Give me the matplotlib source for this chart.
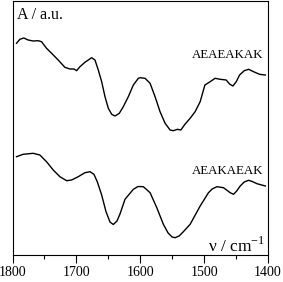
import matplotlib
matplotlib.use("Agg")
import matplotlib.pyplot as plt

plt.rcParams['font.family'] = ['Liberation Serif', 'DejaVu Serif']
plt.rcParams['mathtext.fontset'] = 'custom'
plt.rcParams['mathtext.rm'] = 'Liberation Serif'

# wavenumbers (cm^-1) and absorbance (a.u., offset) for each peptide
wn_top = [1793.7, 1788.5, 1782.3, 1775.5, 1767.7, 1759.8, 1754.5, 1746.7, 1738.8, 1728.5,
          1718.0, 1710.1, 1703.8, 1699.6, 1694.4, 1686.6, 1676.1, 1670.9, 1665.7, 1660.4,
          1655.2, 1650.0, 1644.7, 1639.5, 1632.8, 1626.5, 1618.7, 1610.8, 1603.0, 1600.3,
          1592.5, 1584.6, 1576.8, 1569.0, 1561.1, 1553.3, 1548.1, 1541.8, 1536.5, 1529.7,
          1521.9, 1514.1, 1506.2, 1498.8, 1490.6, 1482.8, 1474.9, 1465.5, 1460.2, 1454.9,
          1449.7, 1444.5, 1437.2, 1430.4, 1422.6, 1413.2, 1404.2]
a_top = [2.127, 2.167, 2.180, 2.160, 2.150, 2.153, 2.143, 2.077, 2.027, 1.960,
         1.887, 1.870, 1.870, 1.853, 1.893, 1.937, 1.983, 1.960, 1.860, 1.743,
         1.593, 1.477, 1.417, 1.400, 1.427, 1.493, 1.593, 1.710, 1.777, 1.783,
         1.777, 1.727, 1.593, 1.443, 1.327, 1.260, 1.253, 1.267, 1.260, 1.320,
         1.377, 1.443, 1.543, 1.710, 1.743, 1.777, 1.767, 1.760, 1.720, 1.700,
         1.743, 1.810, 1.853, 1.867, 1.843, 1.817, 1.810]

wn_bot = [1793.7, 1783.4, 1767.7, 1757.2, 1746.7, 1736.3, 1725.8, 1715.3, 1707.5, 1697.1,
          1686.6, 1678.7, 1672.5, 1667.3, 1660.4, 1653.6, 1647.4, 1642.2, 1636.4, 1631.7,
          1623.9, 1610.8, 1603.5, 1595.1, 1584.6, 1574.1, 1563.8, 1556.4, 1550.1, 1545.4,
          1539.2, 1532.9, 1521.9, 1506.2, 1493.2, 1487.4, 1480.0, 1469.7, 1459.2, 1454.0,
          1449.0, 1443.5, 1437.2, 1430.4, 1424.6, 1417.3, 1404.2]
a_bot = [0.993, 1.017, 1.027, 1.010, 0.943, 0.860, 0.793, 0.753, 0.760, 0.793,
         0.833, 0.843, 0.817, 0.743, 0.610, 0.443, 0.340, 0.315, 0.350, 0.420,
         0.567, 0.667, 0.695, 0.693, 0.633, 0.483, 0.317, 0.230, 0.190, 0.183,
         0.200, 0.240, 0.317, 0.500, 0.633, 0.670, 0.693, 0.683, 0.633, 0.617,
         0.650, 0.700, 0.740, 0.757, 0.745, 0.723, 0.700]

labels = ["AEAEAKAK", "AEAKAEAK"]
xticks = [1800, 1700, 1600, 1500, 1400]
xminor = [1750, 1650, 1550, 1450]

fig = plt.figure(figsize=(2.83, 2.82), dpi=100)
ax = fig.add_axes([12.5/283, 27/282, 255.5/283, 254/282])

ax.plot(wn_top, a_top, color='black', lw=1.0, solid_joinstyle='round')
ax.plot(wn_bot, a_bot, color='black', lw=1.0, solid_joinstyle='round')

ax.set_xlim(1800, 1400)
ax.set_ylim(0.01, 2.55)
ax.set_xticks(xticks)
ax.set_xticks(xminor, minor=True)
ax.set_yticks([])
ax.tick_params(axis='x', which='major', direction='out', length=6, width=0.8,
               labelsize=10, pad=2)
ax.tick_params(axis='x', which='minor', direction='out', length=3, width=0.8)
for s in ax.spines.values():
    s.set_linewidth(0.8)

ax.text(1793, 2.49, "A / a.u.", fontsize=11.5, ha='left', va='top')
ax.text(1407, 1.98, labels[0], fontsize=9.3, ha='right', va='baseline')
ax.text(1407, 0.82, labels[1], fontsize=9.3, ha='right', va='baseline')
ax.text(1405, 0.04, r"ν / cm$^{\mathregular{-1}}$", fontsize=12.5, ha='right', va='baseline')

fig.savefig("out.png", dpi=100)
